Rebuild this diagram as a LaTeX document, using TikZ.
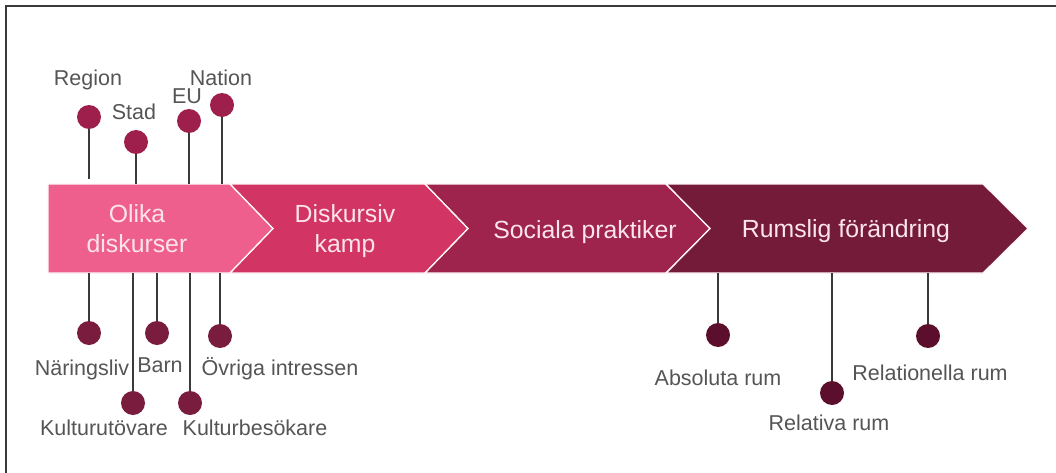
\documentclass[tikz,border=0pt]{standalone}
\usepackage{fontspec}
\setmainfont{Liberation Sans}
\definecolor{cA}{HTML}{EF5F8E}
\definecolor{cB}{HTML}{D23464}
\definecolor{cC}{HTML}{9E234D}
\definecolor{cD}{HTML}{751B3A}
\definecolor{chtext}{HTML}{FCE4EC}
\definecolor{lbl}{HTML}{555555}
\definecolor{dotTop}{HTML}{9E1F4C}
\definecolor{dotBot}{HTML}{7A1C3D}
\definecolor{dotRight}{HTML}{5C0F2C}
\definecolor{stem}{HTML}{3A3A3A}
\begin{document}
\begin{tikzpicture}[x=1pt,y=-1pt,
  chev/.style={draw=white!85!pink,line width=1.2pt,line join=miter},
  chtxt/.style={text=chtext,font=\fontsize{24.8}{28}\selectfont,inner sep=0pt,anchor=base},
  lab/.style={text=lbl,font=\fontsize{21.5}{25}\selectfont,inner sep=0pt,anchor=base},
  dot/.style={circle,inner sep=0pt,minimum size=24pt},
  stemline/.style={draw=stem,line width=1.3pt}]
\useasboundingbox (0,0) rectangle (1056,473);
\fill[white] (0,0) rectangle (1056,473);
% frame (top and left edges)
\draw[line width=2pt,color=stem] (6,473) -- (6,6.5) -- (1056,6.5);
% chevrons
\fill[cA] (48,184) -- (230,184) -- (273,228.5) -- (230,273) -- (48,273) -- cycle;
\fill[cB] (230,184) -- (425,184) -- (468,228.5) -- (425,273) -- (230,273) -- (273,228.5) -- cycle;
\fill[cC] (425,184) -- (666,184) -- (710,228.5) -- (666,273) -- (425,273) -- (468,228.5) -- cycle;
\fill[cD] (666,184) -- (983,184) -- (1028,228.5) -- (983,273) -- (666,273) -- (710,228.5) -- cycle;
\draw[chev] (48,184) -- (230,184) -- (273,228.5) -- (230,273) -- (48,273) -- cycle;
\draw[chev] (230,184) -- (425,184) -- (468,228.5) -- (425,273) -- (230,273) -- (273,228.5) -- cycle;
\draw[chev] (425,184) -- (666,184) -- (710,228.5) -- (666,273) -- (425,273) -- (468,228.5) -- cycle;
\draw[chev] (666,184) -- (983,184) -- (1028,228.5) -- (983,273) -- (666,273) -- (710,228.5) -- cycle;
% chevron texts
\node[chtxt] (t1a) at (137,222) {Olika};
\node[chtxt] (t1b) at (137,252) {diskurser};
\node[chtxt] (t2a) at (345,222) {Diskursiv};
\node[chtxt] (t2b) at (345,252) {kamp};
\node[chtxt] (t3) at (585,238) {Sociala praktiker};
\node[chtxt] (t4) at (846,237) {Rumslig förändring};
% band anchor coordinates
\coordinate (bRegion) at (89,179);
\coordinate (bStad) at (136,184);
\coordinate (bEU) at (189,184);
\coordinate (bNation) at (222,184);
\coordinate (bNar) at (89,273);
\coordinate (bKut) at (133,273);
\coordinate (bBarn) at (157,273);
\coordinate (bKbe) at (190,273);
\coordinate (bOvr) at (220,273);
\coordinate (bAbs) at (718,273);
\coordinate (bRel) at (832,273);
\coordinate (bRln) at (928,273);
% top dots
\node[dot,fill=dotTop] (dRegion) at (89,117) {};
\node[dot,fill=dotTop] (dStad) at (136,142) {};
\node[dot,fill=dotTop] (dEU) at (189,121) {};
\node[dot,fill=dotTop] (dNation) at (222,105) {};
% bottom-left dots
\node[dot,fill=dotBot] (dNar) at (89,333) {};
\node[dot,fill=dotBot] (dKut) at (133,403) {};
\node[dot,fill=dotBot] (dBarn) at (157,333) {};
\node[dot,fill=dotBot] (dKbe) at (190,403) {};
\node[dot,fill=dotBot] (dOvr) at (220,336) {};
% right dots
\node[dot,fill=dotRight] (dAbs) at (718,335) {};
\node[dot,fill=dotRight] (dRel) at (832,393) {};
\node[dot,fill=dotRight] (dRln) at (928,336) {};
% stems
\foreach \n in {Region,Stad,EU,Nation,Nar,Kut,Barn,Kbe,Ovr,Abs,Rel,Rln}
  \draw[stemline] (d\n) -- (b\n);
% labels
\node[lab] (lRegion) at (88,86) {Region};
\node[lab] (lStad) at (134,120) {Stad};
\node[lab] (lEU) at (187,104) {EU};
\node[lab] (lNation) at (221,86) {Nation};
\node[lab] (lNar) at (82,375) {Näringsliv};
\node[lab] (lBarn) at (160,372) {Barn};
\node[lab] (lOvr) at (280,375) {Övriga intressen};
\node[lab] (lKut) at (104,435) {Kulturutövare};
\node[lab] (lKbe) at (255,435) {Kulturbesökare};
\node[lab] (lAbs) at (718,385) {Absoluta rum};
\node[lab] (lRel) at (829,430) {Relativa rum};
\node[lab] (lRln) at (930,380) {Relationella rum};
\end{tikzpicture}
\end{document}
